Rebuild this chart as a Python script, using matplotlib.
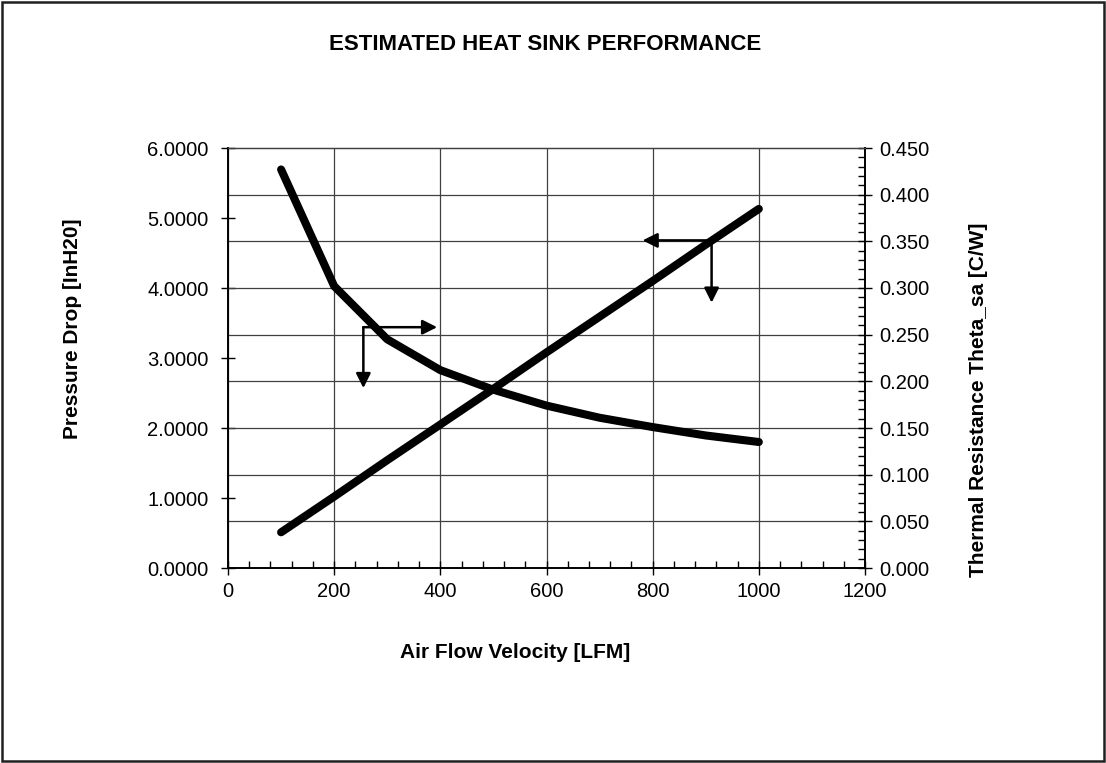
import numpy as np
import matplotlib
matplotlib.use('Agg')
from matplotlib import pyplot as plt
from matplotlib.patches import Rectangle
from matplotlib.ticker import MultipleLocator, FormatStrFormatter

plt.rcParams['font.family'] = ['Liberation Sans', 'DejaVu Sans']

# air flow velocity [LFM]
velocity = [100, 200, 300, 400, 500, 600, 700, 800, 900, 1000]

# pressure drop [InH20], left axis
pressure_drop = [0.51, 1.02, 1.54, 2.05, 2.56, 3.08, 3.59, 4.10, 4.62, 5.13]

# thermal resistance [C/W], right axis
thermal_resistance = [0.427, 0.302, 0.245, 0.212, 0.191, 0.174, 0.161,
                      0.151, 0.142, 0.135]

# arrow markers: (corner x, corner y, horizontal tip x, vertical tip y)
arrow_right = (255, 3.44, 394, 2.57)
arrow_left = (911, 4.68, 781, 3.79)

W, H = 1106, 763
fig = plt.figure(figsize=(W / 100, H / 100), dpi=100)

# plot area in pixels
px_left, px_top, px_right, px_bottom = 228, 148, 865, 568
ax1 = fig.add_axes([px_left / W, 1 - px_bottom / H,
                    (px_right - px_left) / W, (px_bottom - px_top) / H])
ax2 = ax1.twinx()

y1_max = 6.0
y2_max = 0.45

ax1.set_xlim(0, 1200)
ax1.set_ylim(0, y1_max)
ax2.set_ylim(0, y2_max)

# horizontal gridlines follow the right axis major ticks
for r in np.arange(0.05, y2_max, 0.05):
    ax1.axhline(r * y1_max / y2_max, color='#404040', lw=0.9, zorder=1)
ax1.xaxis.set_major_locator(MultipleLocator(200))
ax1.grid(axis='x', color='#404040', lw=0.9, zorder=1)
ax1.set_axisbelow(True)

ax1.plot(velocity, pressure_drop, color='black', lw=5.8,
         solid_capstyle='round', solid_joinstyle='round', zorder=3)
ax2.plot(velocity, thermal_resistance, color='black', lw=5.8,
         solid_capstyle='round', solid_joinstyle='round', zorder=3)

# the arrows telling which axis each curve uses
for (cx, cy, tx, ty) in [arrow_right, arrow_left]:
    for tip in [(tx, cy), (cx, ty)]:
        ax1.annotate('', xy=tip, xytext=(cx, cy),
                     arrowprops=dict(arrowstyle='-|>', color='black', lw=1.8,
                                     mutation_scale=22, shrinkA=0, shrinkB=0),
                     zorder=4)

# ticks
ax1.yaxis.set_major_locator(MultipleLocator(1.0))
ax1.yaxis.set_major_formatter(FormatStrFormatter('%.4f'))
ax1.xaxis.set_minor_locator(MultipleLocator(40))
ax2.yaxis.set_major_locator(MultipleLocator(0.05))
ax2.yaxis.set_minor_locator(MultipleLocator(0.01))
ax2.yaxis.set_major_formatter(FormatStrFormatter('%.3f'))

ax1.tick_params(axis='x', which='major', direction='inout', length=10,
                width=1, labelsize=14.5, pad=5)
ax1.tick_params(axis='y', which='major', direction='inout', length=10,
                width=1, labelsize=14.5, pad=9)
ax1.tick_params(axis='x', which='minor', direction='in', length=5, width=1)
ax2.tick_params(axis='y', which='major', direction='inout', length=10,
                width=1, labelsize=14.5, pad=5)
ax2.tick_params(axis='y', which='minor', direction='in', length=5, width=1)

for ax in [ax1, ax2]:
    ax.spines['top'].set_color('#404040')
    ax.spines['top'].set_linewidth(0.9)
    ax.spines['left'].set_linewidth(1.2)
    ax.spines['right'].set_linewidth(1.2)
    ax.spines['bottom'].set_linewidth(1.2)

# labels
ax1.set_xlabel('Air Flow Velocity [LFM]', fontsize=15, fontweight='bold')
ax1.xaxis.set_label_coords((515 - px_left) / (px_right - px_left),
                           (px_bottom - 652) / (px_bottom - px_top))
ax1.xaxis.label.set_va('center')
ax1.set_ylabel('Pressure Drop [InH20]', fontsize=15, fontweight='bold')
ax1.yaxis.set_label_coords((72 - px_left) / (px_right - px_left),
                           (px_bottom - 329) / (px_bottom - px_top))
ax1.yaxis.label.set_va('center')
ax2.set_ylabel('Thermal Resistance Theta_sa [C/W]', fontsize=15,
               fontweight='bold')
ax2.yaxis.set_label_coords((978 - px_left) / (px_right - px_left),
                           (px_bottom - 400) / (px_bottom - px_top))
ax2.yaxis.label.set_va('center')
fig.text(545 / W, 1 - 44 / H, 'ESTIMATED HEAT SINK PERFORMANCE',
         ha='center', va='center', fontsize=16, fontweight='bold')

# frame around the whole chart
fig.patches.append(Rectangle((0.002, 0.002), 0.996, 0.996,
                             transform=fig.transFigure, fill=False,
                             edgecolor='#202020', lw=1.8))

fig.savefig('out.png', dpi=100)
